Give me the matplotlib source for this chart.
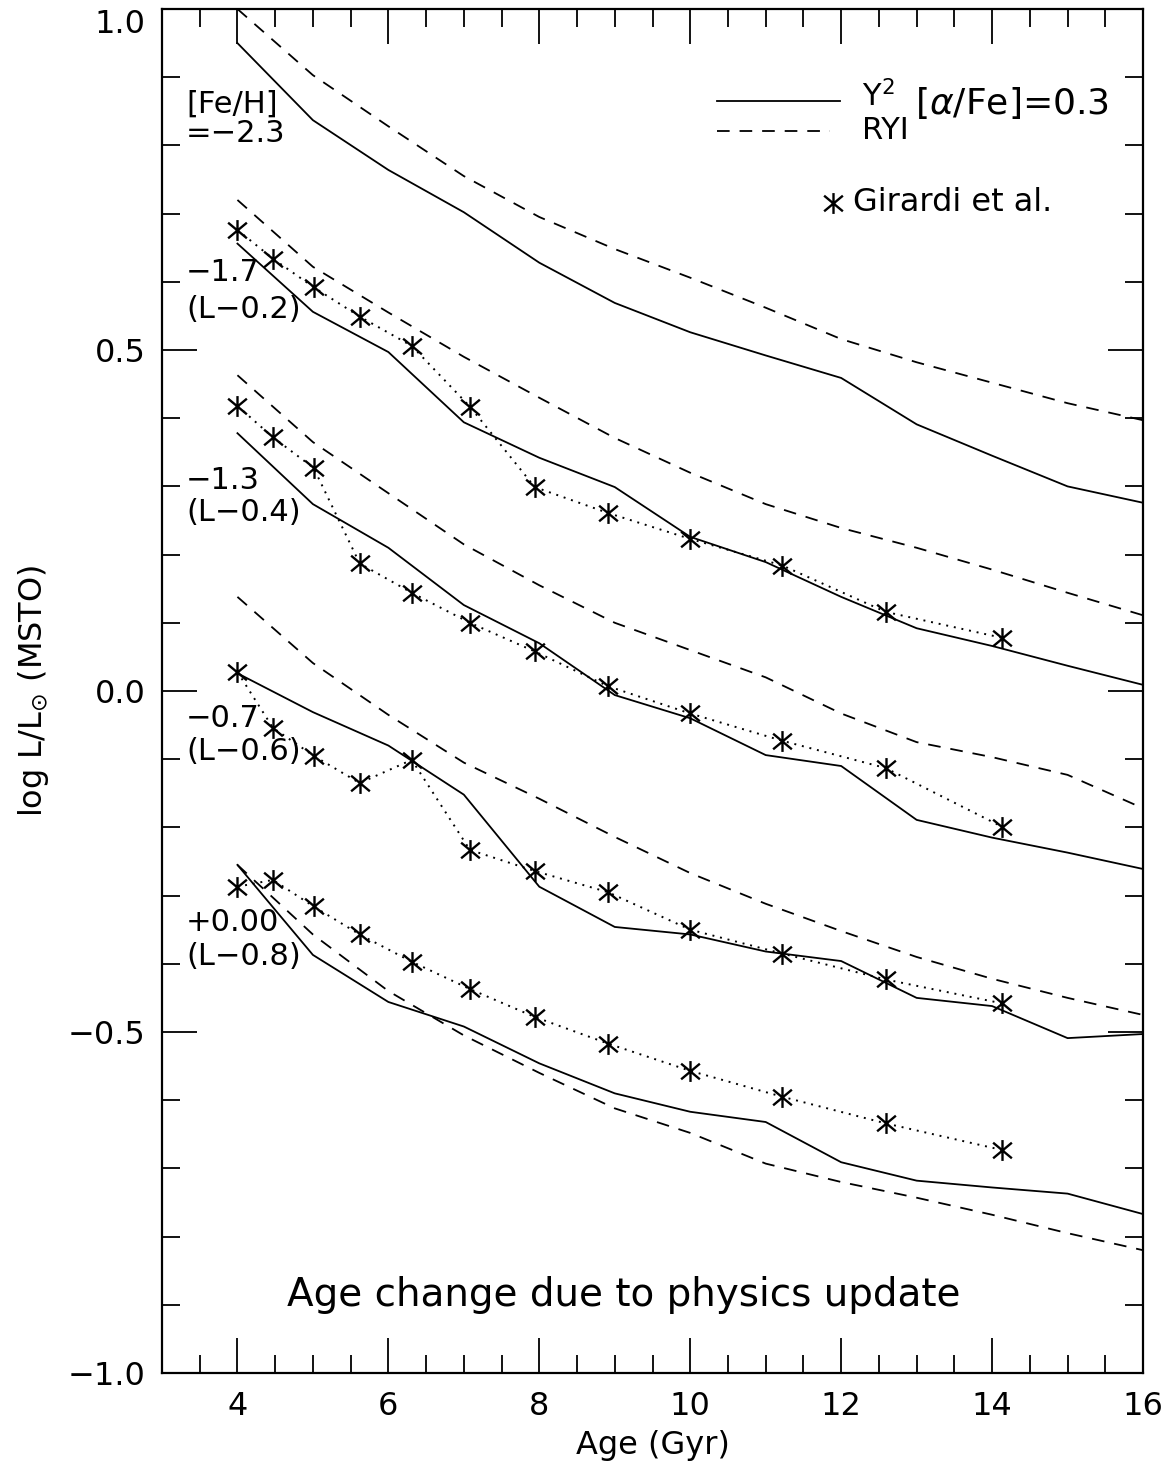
import numpy as np
import matplotlib
matplotlib.use("Agg")
import matplotlib.pyplot as plt
from matplotlib.path import Path
from matplotlib.ticker import MultipleLocator

# model ages (Gyr)
ages = [4, 5, 6, 7, 8, 9, 10, 11, 12, 13, 14, 15, 16]

# Y2 [a/Fe]=0.3, solid lines (already shifted by the L offsets)
y2_m23 = [0.950, 0.837, 0.764, 0.702, 0.628, 0.569, 0.526, 0.492, 0.459, 0.391, 0.345, 0.300, 0.276]
y2_m17 = [0.656, 0.556, 0.497, 0.394, 0.342, 0.299, 0.226, 0.189, 0.138, 0.092, 0.066, 0.037, 0.009]
y2_m13 = [0.378, 0.274, 0.210, 0.126, 0.070, -0.006, -0.040, -0.094, -0.110, -0.189, -0.215, -0.237, -0.261]
y2_m07 = [0.026, -0.031, -0.080, -0.152, -0.287, -0.346, -0.357, -0.382, -0.396, -0.450, -0.462, -0.509, -0.503]
y2_p00 = [-0.255, -0.387, -0.456, -0.492, -0.546, -0.590, -0.617, -0.632, -0.691, -0.718, -0.728, -0.737, -0.767]

# RYI, dashed lines
ryi_m23 = [1.000, 0.903, 0.828, 0.755, 0.695, 0.648, 0.606, 0.562, 0.516, 0.482, 0.452, 0.422, 0.397]
ryi_m17 = [0.720, 0.622, 0.555, 0.490, 0.430, 0.371, 0.320, 0.274, 0.239, 0.210, 0.178, 0.144, 0.111]
ryi_m13 = [0.463, 0.365, 0.290, 0.215, 0.155, 0.100, 0.060, 0.020, -0.033, -0.075, -0.097, -0.123, -0.172]
ryi_m07 = [0.138, 0.041, -0.035, -0.105, -0.158, -0.214, -0.267, -0.312, -0.352, -0.390, -0.422, -0.450, -0.475]
ryi_p00 = [-0.255, -0.357, -0.440, -0.505, -0.560, -0.612, -0.648, -0.693, -0.720, -0.743, -0.768, -0.795, -0.820]

# Girardi et al. points
gir_ages = [4.0, 4.47, 5.01, 5.62, 6.31, 7.08, 7.94, 8.91, 10.0, 11.22, 12.59, 14.13]
gir_m17 = [0.676, 0.634, 0.592, 0.549, 0.506, 0.417, 0.299, 0.261, 0.223, 0.184, 0.116, 0.078]
gir_m13 = [0.418, 0.372, 0.327, 0.187, 0.144, 0.100, 0.058, 0.007, -0.033, -0.073, -0.113, -0.199]
gir_m07 = [0.028, -0.054, -0.095, -0.135, -0.101, -0.233, -0.264, -0.295, -0.350, -0.385, -0.423, -0.458]
gir_p00 = [-0.287, -0.277, -0.316, -0.357, -0.397, -0.437, -0.478, -0.517, -0.557, -0.595, -0.634, -0.673]

# axis ticks
y_ticks = [-1.0, -0.5, 0.0, 0.5, 1.0]
y_tick_labels = ["\u22121.0", "\u22120.5", "0.0", "0.5", "1.0"]

plt.rcParams["font.family"] = "DejaVu Sans"

# asterisk marker: vertical bar plus an X
c, s = 0.9, 0.75
star = Path([(0, -1), (0, 1), (-c, -s), (c, s), (-c, s), (c, -s)],
            [Path.MOVETO, Path.LINETO] * 3)

fig = plt.figure(figsize=(11.72, 14.76), dpi=100)
ax = fig.add_axes([0.1382, 0.0698, 0.8371, 0.9241])

lw = 1.3
dash = (0, (7, 5.5))
for y in [y2_m23, y2_m17, y2_m13, y2_m07, y2_p00]:
    ax.plot(ages, y, color="black", lw=lw)
for y in [ryi_m23, ryi_m17, ryi_m13, ryi_m07, ryi_p00]:
    ax.plot(ages, y, color="black", lw=lw, linestyle=dash)
for y in [gir_m17, gir_m13, gir_m07, gir_p00]:
    ax.plot(gir_ages, y, color="black", lw=1.4, linestyle=(0, (1, 3)),
            marker=star, ms=15, mew=1.7, mfc="black", mec="black")

ax.set_xlim(3, 16)
ax.set_ylim(-1.0, 1.0)
ax.xaxis.set_major_locator(MultipleLocator(2))
ax.xaxis.set_minor_locator(MultipleLocator(0.5))
ax.set_yticks(y_ticks, labels=y_tick_labels)
ax.yaxis.set_minor_locator(MultipleLocator(0.1))
ax.tick_params(which="both", direction="in", top=True, right=True, width=1.3,
               labelsize=23)
ax.tick_params(axis="x", pad=13)
ax.tick_params(axis="y", pad=12)
ax.tick_params(which="major", length=25)
ax.tick_params(which="minor", length=13)
ax.get_yticklabels()[-1].set_va("top")
for sp in ax.spines.values():
    sp.set_linewidth(1.6)

ax.set_xlabel("Age (Gyr)", fontsize=23, labelpad=6)
ax.set_ylabel(r"log L/L$_{\odot}$ (MSTO)", fontsize=23, labelpad=12)

# group labels
fs = 22
ax.text(3.32, 0.861, "[Fe/H]", fontsize=fs, va="center")
ax.text(3.32, 0.817, "=\u22122.3", fontsize=fs, va="center")
ax.text(3.32, 0.614, "\u22121.7", fontsize=fs, va="center")
ax.text(3.32, 0.560, "(L\u22120.2)", fontsize=fs, va="center")
ax.text(3.32, 0.309, "\u22121.3", fontsize=fs, va="center")
ax.text(3.32, 0.261, "(L\u22120.4)", fontsize=fs, va="center")
ax.text(3.32, -0.040, "\u22120.7", fontsize=fs, va="center")
ax.text(3.32, -0.089, "(L\u22120.6)", fontsize=fs, va="center")
ax.text(3.32, -0.339, "+0.00", fontsize=fs, va="center")
ax.text(3.32, -0.390, "(L\u22120.8)", fontsize=fs, va="center")

# legend drawn by hand
ax.plot([10.36, 11.98], [0.865, 0.865], color="black", lw=lw)
ax.plot([10.36, 11.85], [0.821, 0.821], color="black", lw=lw, linestyle=dash)
ax.text(12.27, 0.872, r"Y$^2$", fontsize=22, va="center")
ax.text(12.98, 0.862, r"[$\alpha$/Fe]=0.3", fontsize=26, va="center")
ax.text(12.27, 0.822, "RYI", fontsize=22, va="center")
ax.plot([11.89], [0.716], linestyle="none", marker=star, ms=15, mew=1.7, color="black")
ax.text(12.15, 0.716, "Girardi et al.", fontsize=23, va="center")

ax.text(9.12, -0.886, "Age change due to physics update", fontsize=28,
        ha="center", va="center")

fig.savefig("out.png", dpi=100)
